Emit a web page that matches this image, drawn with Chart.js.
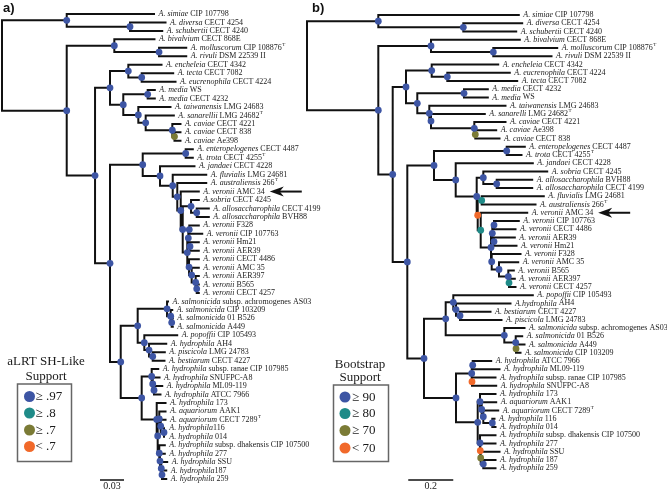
<!DOCTYPE html>
<html><head><meta charset="utf-8">
<script src="https://cdn.jsdelivr.net/npm/chart.js@4/dist/chart.umd.min.js"></script>
<style>html,body{margin:0;padding:0;background:#fff;}#wrap{position:relative;width:667px;height:490px;}canvas{display:block;}</style>
</head><body><div id="wrap"><canvas id="c" width="667" height="490"></canvas></div>
<script>
// ---------- DATA ----------
// support classes: 0 blue, 1 teal, 2 olive, 3 orange, -1 none
// node = [depth, support, [children]]; leaf = tip depth (leaves in label order)
// Tree a) aLRT, scale units substitutions/site
const A_T = [0.2434,0,[0.2460,0.2460]];
const A_S = [0.2421,0,[0.2460,A_T]];
const A_R = [0.2371,0,[0.2460,A_S]];
const A_U = [0.2338,0,[0.2460,A_R]];
const A_W = [0.2329,0,[[0.2341,0,[0.2460,0.2503]],[0.235,0,[0.2460,0.2460]]]];
const A_V = [0.2316,0,[A_W,A_U]];
const A_sob = [0.2363,0,[0.2460,[0.2434,0,[0.2585,0.2585]]]];
const A_N = [0.2259,0,[A_sob,A_V]];
const A_K3 = [0.2234,0,[0.2460,A_N]];
const A_K2 = [0.2191,0,[0.2553,A_K3]];
const A_K1 = [0.2134,0,[0.2553,A_K2]];
const A_J = [0.1975,0,[0.2406,A_K1]];
const A_E = [0.1759,0,[[0.2296,0,[0.2385,0.2385]],A_J]];
const A_cavY = [0.2156,2,[0.2231,0.2231]];
const A_cavX = [0.2129,0,[0.2231,A_cavY]];
const A_san = [0.1796,0,[0.2148,A_cavX]];
const A_taiw = [0.1704,0,[0.2106,A_san]];
const A_medcav = [0.1516,0,[[0.1821,0,[0.1910,0.1910]],A_taiw]];
const A_enc = [0.1579,0,[0.1994,[0.1746,0,[0.2140,0.2169]]]];
const A_enccav = [0.135,0,[A_enc,A_medcav]];
const A_sal = [0.2063,0,[0.2075,[0.2109,0,[0.2128,[0.2121,0,[0.2135,0.2135]]]]]];
const A_pop = [0.1779,0,[0.219,[0.1838,0,[0.2053,[0.1884,0,[0.2035,0.2031]]]]]];
const A_salpop = [0.1696,0,[A_sal,A_pop]];
const A_ra = [0.1871,0,[0.1953,[0.1884,0,[0.1969,[0.19,0,[0.2003,0.1981]]]]]];
const A_hd = [0.1966,0,[0.2044,[0.1984,0,[0.2044,[0.2025,0,[0.2035,0.2035]]]]]];
const A_he = [0.1966,0,[0.2035,[0.1975,0,[0.2035,[0.1991,0,[0.2065,[0.2,0,[0.2053,0.2053]]]]]]]];
const A_hb = [0.1934,0,[0.2044,[0.1946,0,[A_hd,A_he]]]];
const A_hy = [0.1746,0,[A_ra,A_hb]];
const A_h0 = [0.1484,0,[A_salpop,A_hy]];
const A_n110 = [0.135,0,[A_E,A_h0]];
const A_n95 = [0.1163,0,[A_enccav,A_n110]];
const A_c2 = [0.0809,0,[[0.1404,0,[0.1906,[0.1963,0,[0.2303,0.2303]]]],A_n95]];
const A_c1 = [0.0809,0,[0.190,[0.160,0,[0.2044,0.2003]]]];
const treeA = [0,-1,[A_c1,A_c2]];

// Tree b) bootstrap
const B_c1 = [0.3169,0,[0.9413,[0.6947,0,[0.9564,0.9298]]]];
const B_biv = [0.5511,0,[0.9458,[0.828,0,[1.112,1.0867]]]];
const B_enc = [0.5542,0,[0.8498,[0.6236,0,[0.9013,0.9342]]]];
const B_cav = [0.7436,0,[0.8822,[0.748,2,[0.8409,0.8556]]]];
const B_t2 = [0.5511,0,[0.7902,B_cav]];
const B_t1 = [0.5436,0,[0.8822,B_t2]];
const B_medcav = [0.4902,0,[[0.6978,0,[0.8036,0.8036]],B_t1]];
const B_enccav = [0.44,0,[B_enc,B_medcav]];
const B_rb2 = [0.8978,1,[0.9236,0.9267]];
const B_rb1 = [0.8947,0,[0.9191,B_rb2]];
const B_rb3 = [0.8533,0,[0.9387,B_rb1]];
const B_rb4 = [0.8209,0,[0.9489,B_rb3]];
const B_tb = [0.8236,0,[[0.8311,0,[0.9413,0.9267]],[0.8311,0,[0.9236,0.9311]]]];
const B_n = [0.8178,0,[B_tb,B_rb4]];
const B_m = [0.772,1,[0.9787,B_n]];
const B_fa = [0.7764,1,[1.0524,1.0156]];
const B_l = [0.7587,3,[B_fa,B_m]];
const B_sob = [0.7836,0,[1.0676,[0.8431,0,[1.0009,1.0009]]]];
const B_k = [0.7542,0,[B_sob,B_l]];
const B_j = [0.6609,0,[1.0036,B_k]];
const B_e = [0.5644,0,[[0.8876,0,[0.968,0.9533]],B_j]];
const B_pop = [0.6502,0,[1.0036,[0.6622,0,[0.9044,[0.68,0,[0.8156,0.8644]]]]]];
const B_sal = [0.8769,0,[0.9667,[0.9276,0,[0.9564,[0.929,2,[0.9667,0.9489]]]]]];
const B_salpop = [0.6164,0,[B_pop,B_sal]];
const B_rr = [0.732,0,[[0.7364,0,[0.8187,0.8556]],[0.7333,3,[0.8378,0.8409]]]];
const B_hu = [0.7689,0,[0.8378,[0.7764,0,[0.8409,[0.7836,0,[0.8498,[0.8236,0,[0.8333,0.8378]]]]]]]];
const B_hl = [0.7689,0,[0.8378,[0.7702,3,[0.8378,[0.772,2,[0.8556,[0.7836,0,[0.8378,0.8378]]]]]]]];
const B_hb = [0.7587,0,[B_hu,B_hl]];
const B_hy = [0.6622,0,[B_rr,B_hb]];
const B_h0 = [0.52,0,[B_salpop,B_hy]];
const B_n407 = [0.4458,0,[B_e,B_h0]];
const B_n392 = [0.3809,0,[B_enccav,B_n407]];
const B_c2 = [0.3169,0,[B_biv,B_n392]];
const treeB = [0,-1,[B_c1,B_c2]];

// Leaf labels (italic species part, upright strain part; ^T = type strain superscript)
const speciesA = ["A. simiae","A. diversa","A. schubertii","A. bivalvium","A. molluscorum","A. rivuli","A. encheleia","A. tecta","A. eucrenophila","A. media","A. media","A. taiwanensis","A. sanarellii","A. caviae","A. caviae","A. caviae","A. enteropelogenes","A. trota","A. jandaei","A. fluvialis","A. australiensis","A. veronii","A.sobria","A. allosaccharophila","A. allosaccharophila","A. veronii","A. veronii","A. veronii","A. veronii","A. veronii","A. veronii","A. veronii","A. veronii","A. veronii","A. salmonicida","A. salmonicida","A. salmonicida","A. salmonicida","A. popoffii","A. hydrophila","A. piscicola","A. bestiarum","A. hydrophila","A. hydrophila","A. hydrophila","A. hydrophila","A. hydrophila","A. aquariorum","A. aquariorum","A. hydrophila","A. hydrophila","A. hydrophila","A. hydrophila","A. hydrophila","A. hydrophila","A. hydrophila"];
const strainA = [" CIP 107798"," CECT 4254"," CECT 4240"," CECT 868E"," CIP 108876^T"," DSM 22539 II"," CECT 4342"," CECT 7082"," CECT 4224"," WS"," CECT 4232"," LMG 24683"," LMG 24682^T"," CECT 4221"," CECT 838"," Ae398"," CECT 4487"," CECT 4255^T"," CECT 4228"," LMG 24681"," 266^T"," AMC 34"," CECT 4245"," CECT 4199"," BVH88"," F328"," CIP 107763"," Hm21"," AER39"," CECT 4486"," AMC 35"," AER397"," B565"," CECT 4257"," subsp. achromogenes AS03"," CIP 103209"," 01 B526"," A449"," CIP 105493"," AH4"," LMG 24783"," CECT 4227"," subsp. ranae CIP 107985"," SNUFPC-A8"," ML09-119"," ATCC 7966"," 173"," AAK1"," CECT 7289^T","116"," 014"," subsp. dhakensis CIP 107500"," 277"," SSU","187"," 259"];
const speciesB = ["A. simiae","A. diversa","A. schubertii","A. bivalvium","A. molluscorum","A. rivuli","A. encheleia","A. eucrenophila","A. tecta","A. media","A. media","A. taiwanensis","A. sanarelli","A. caviae","A. caviae","A. caviae","A. enteropelogenes","A. trota","A. jandaei","A. sobria","A. allosaccharophila","A. allosaccharophila","A. fluvialis","A. australiensis","A. veronii","A. veronii","A. veronii","A. veronii","A. veronii","A. veronii","A. veronii","A. veronii","A. veronii","A. veronii","A. popoffii","A.hydrophila","A. bestiarum","A. piscicola","A. salmonicida","A. salmonicida","A. salmonicida","A. salmonicida","A. hydrophila","A. hydrophila","A. hydrophila","A. hydrophila","A. hydrophila","A. aquariorum","A. aquariorum","A. hydrophila","A. hydrophila","A. hydrophila","A. hydrophila","A. hydrophila","A. hydrophila","A. hydrophila"];
const strainB = [" CIP 107798"," CECT 4254"," CECT 4240"," CECT 868E"," CIP 108876^T"," DSM 22539 II"," CECT 4342"," CECT 4224"," CECT 7082"," CECT 4232"," WS"," LMG 24683"," LMG 24682^T"," CECT 4221"," Ae398"," CECT 838"," CECT 4487"," CECT 4255^T"," CECT 4228"," CECT 4245"," BVH88"," CECT 4199"," LMG 24681"," 266^T"," AMC 34"," CIP 107763"," CECT 4486"," AER39"," Hm21"," F328"," AMC 35"," B565"," AER397"," CECT 4257"," CIP 105493"," AH4"," CECT 4227"," LMG 24783"," subsp. achromogenes AS03"," 01 B526"," A449"," CIP 103209"," ATCC 7966"," ML09-119"," subsp. ranae CIP 107985"," SNUFPC-A8"," 173"," AAK1"," CECT 7289^T"," 116"," 014"," subsp. dhakensis CIP 107500"," 277"," SSU"," 187"," 259"];

const supportColors = ['#3d55a4','#1f8b88','#7b7b36','#f1692a'];
const legendTitleA = ["aLRT SH-Like","Support"];
const legendTitleB = ["Bootstrap","Support"];
const legendA = ["\u2265 .97","\u2265 .8","\u2265 .7","< .7"];
const legendB = ["\u2265 90","\u2265 80","\u2265 70","< 70"];
const scaleBarA = 0.03, scaleBarB = 0.2;
const arrowLeafA = 21, arrowLeafB = 24;

// ---------- LAYOUT from tree structure ----------
function layoutTree(tree){
  const segs=[], dots=[], tips=[]; let leaf=0;
  function walk(node,px){
    if(typeof node==='number'){
      const y=leaf++;
      segs.push({x:px,y:y},{x:node,y:y},{x:node,y:null});
      tips.push({x:node,y:y});
      return y;
    }
    const d=node[0], s=node[1], kids=node[2];
    const ys=kids.map(k=>walk(k,d));
    const y=(ys[0]+ys[ys.length-1])/2;
    segs.push({x:d,y:ys[0]},{x:d,y:ys[ys.length-1]},{x:d,y:null});
    if(px!==null) segs.push({x:px,y:y},{x:d,y:y},{x:d,y:null});
    if(s>=0) dots.push({x:d,y:y,s:s});
    return y;
  }
  walk(tree,null);
  return {segs,dots,tips};
}
const LA = layoutTree(treeA), LB = layoutTree(treeB);

const SERIF = '"Liberation Serif","Times New Roman",serif';
function drawLabel(ctx,x,y,sp,st){
  ctx.font='italic 8px '+SERIF;
  ctx.fillText(sp,x,y);
  x+=ctx.measureText(sp).width;
  let sup=false; if(st.endsWith('^T')){sup=true; st=st.slice(0,-2);}
  ctx.font='8px '+SERIF;
  ctx.fillText(st,x,y);
  x+=ctx.measureText(st).width;
  if(sup){ctx.font='5px '+SERIF; ctx.fillText('T',x+0.4,y-3); x+=4;}
  return x;
}
function drawArrow(ctx,x,y){
  ctx.save(); ctx.fillStyle='#111'; ctx.strokeStyle='#111'; ctx.lineWidth=2;
  ctx.beginPath(); ctx.moveTo(x+8,y); ctx.lineTo(x+32,y); ctx.stroke();
  ctx.beginPath(); ctx.moveTo(x,y); ctx.lineTo(x+14,y-5); ctx.lineTo(x+10,y); ctx.lineTo(x+14,y+5); ctx.closePath(); ctx.fill();
  ctx.restore();
}
function drawLegend(ctx,titles,items,cx,tY,box,circX,itemY,textX){
  ctx.save();
  ctx.fillStyle='#1a1a1a'; ctx.textAlign='center'; ctx.textBaseline='middle';
  ctx.font='13px '+SERIF;
  ctx.fillText(titles[0],cx,tY[0]); ctx.fillText(titles[1],cx,tY[1]);
  ctx.strokeStyle='#666'; ctx.lineWidth=1.5;
  ctx.strokeRect(box[0],box[1],box[2],box[3]);
  ctx.textAlign='left';
  items.forEach((t,i)=>{
    ctx.fillStyle=supportColors[i];
    ctx.beginPath(); ctx.arc(circX,itemY[i],5.5,0,Math.PI*2); ctx.fill();
    ctx.fillStyle='#1a1a1a'; ctx.font='13px '+SERIF;
    ctx.fillText(t,textX,itemY[i]+0.5);
  });
  ctx.restore();
}
function drawScaleBar(ctx,xs,v0,len,y,txt){
  const a=xs.getPixelForValue(v0), b=xs.getPixelForValue(v0+len);
  ctx.save(); ctx.strokeStyle='#111'; ctx.lineWidth=1.5;
  ctx.beginPath(); ctx.moveTo(a,y); ctx.lineTo(b,y); ctx.stroke();
  ctx.fillStyle='#1a1a1a'; ctx.font='10px '+SERIF; ctx.textAlign='center'; ctx.textBaseline='middle';
  ctx.fillText(txt,(a+b)/2,y+6.5);
  ctx.restore();
}

const decor = {
  id:'decor',
  afterDraw(chart){
    const ctx=chart.ctx;
    const xA=chart.scales.xA, yA=chart.scales.yA, xB=chart.scales.xB, yB=chart.scales.yB;
    ctx.save();
    ctx.fillStyle='#1a1a1a'; ctx.textBaseline='middle'; ctx.textAlign='left';
    let endA=0, endB=0;
    LA.tips.forEach((t,i)=>{
      const e=drawLabel(ctx,xA.getPixelForValue(t.x)+4.5,yA.getPixelForValue(t.y),speciesA[i],strainA[i]);
      if(i===arrowLeafA) endA=e;
    });
    LB.tips.forEach((t,i)=>{
      const e=drawLabel(ctx,xB.getPixelForValue(t.x)+4.5,yB.getPixelForValue(t.y),speciesB[i],strainB[i]);
      if(i===arrowLeafB) endB=e;
    });
    ctx.restore();
    drawArrow(ctx,endA+5,yA.getPixelForValue(arrowLeafA));
    drawArrow(ctx,endB+5,yB.getPixelForValue(arrowLeafB));
    // panel letters
    ctx.save(); ctx.fillStyle='#111'; ctx.font='bold 13px "Liberation Sans",Arial,sans-serif'; ctx.textBaseline='alphabetic';
    ctx.fillText('a)',3,12); ctx.fillText('b)',312,12); ctx.restore();
    drawLegend(ctx,legendTitleA,legendA,46,[362,376.5],[17.5,384,54,77.5],29.5,[396.5,413,430,446.5],35.5);
    drawLegend(ctx,legendTitleB,legendB,360,[365,377.5],[333.5,385,55,76.5],345,[397,413.5,430.5,448],352);
    drawScaleBar(ctx,xA,0.1225,scaleBarA,480,'0.03');
    drawScaleBar(ctx,xB,0.45,scaleBarB,480,'0.2');
  }
};

const lineDs = (L,x,y)=>({type:'scatter',data:L.segs,showLine:true,borderColor:'#111',borderWidth:2,pointRadius:0,pointHoverRadius:0,spanGaps:false,borderCapStyle:'square',borderJoinStyle:'miter',xAxisID:x,yAxisID:y,order:2});
const dotDs = (L,x,y)=>({type:'scatter',data:L.dots,pointRadius:3.4,pointHoverRadius:3.4,borderWidth:0,pointBorderWidth:0,backgroundColor:L.dots.map(d=>supportColors[d.s]),pointBackgroundColor:L.dots.map(d=>supportColors[d.s]),xAxisID:x,yAxisID:y,order:1});

const hidden = (min,max,rev)=>({type:'linear',display:false,min:min,max:max,reverse:!!rev});
new Chart(document.getElementById('c'),{
  type:'scatter',
  data:{datasets:[lineDs(LA,'xA','yA'),dotDs(LA,'xA','yA'),lineDs(LB,'xB','yB'),dotDs(LB,'xB','yB')]},
  options:{
    responsive:false,animation:false,devicePixelRatio:1,events:[],
    layout:{padding:0,autoPadding:false},
    plugins:{legend:{display:false},tooltip:{enabled:false},title:{display:false}},
    scales:{
      xA:hidden(-2/800,-2/800+667/800),
      yA:Object.assign(hidden(-14/8.455,-14/8.455+490/8.455,true),{axis:'y'}),
      xB:hidden(-307/225,-307/225+667/225),
      yB:Object.assign(hidden(-15/8.24,-15/8.24+490/8.24,true),{axis:'y'})
    }
  },
  plugins:[decor]
});
</script></body></html>
